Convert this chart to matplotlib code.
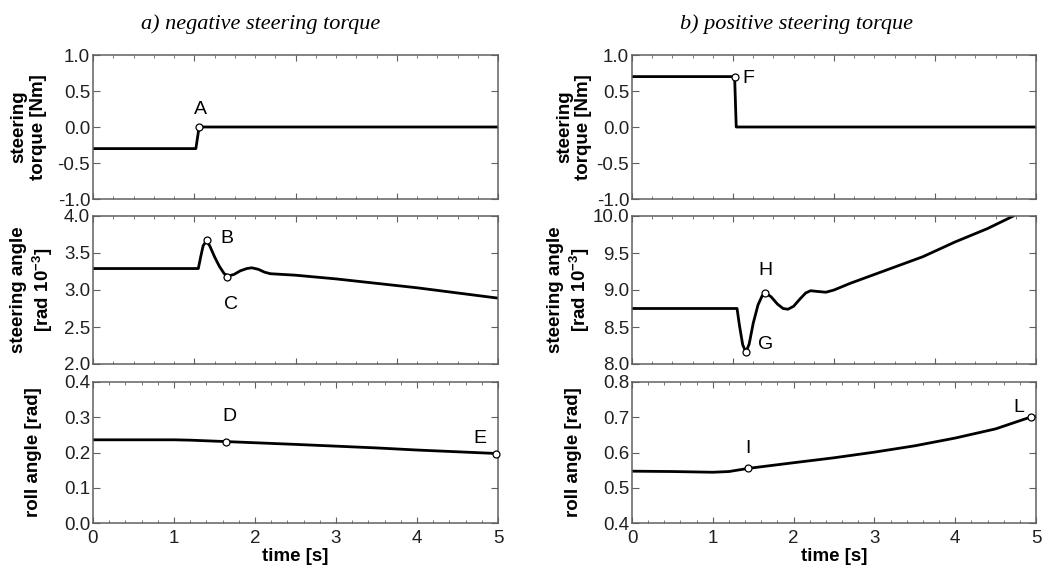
import numpy as np
import matplotlib
matplotlib.use('Agg')
import matplotlib.pyplot as plt
from matplotlib.ticker import MultipleLocator, FormatStrFormatter, NullFormatter

plt.rcParams['font.family'] = ['Liberation Sans', 'DejaVu Sans']
plt.rcParams['axes.unicode_minus'] = False
plt.rcParams['mathtext.fontset'] = 'custom'
plt.rcParams['mathtext.rm'] = 'Liberation Sans:bold'
plt.rcParams['mathtext.bf'] = 'Liberation Sans:bold'

# ---- data ----
# a) negative steering torque
torque_neg_t = [0, 1.27, 1.31, 5.0]
torque_neg_y = [-0.3, -0.3, 0.0, 0.0]
angle_neg_t = [0, 1.30, 1.33, 1.36, 1.40, 1.44, 1.50, 1.56, 1.62, 1.67, 1.74,
               1.82, 1.90, 1.96, 2.04, 2.12, 2.19, 2.5, 3.0, 3.5, 4.0, 4.5, 5.0]
angle_neg_y = [3.29, 3.29, 3.45, 3.60, 3.66, 3.60, 3.45, 3.32, 3.22, 3.19, 3.21,
               3.26, 3.29, 3.30, 3.28, 3.24, 3.22, 3.20, 3.15, 3.09, 3.03, 2.96, 2.89]
roll_neg_t = [0, 0.5, 1.0, 1.2, 1.64, 2.5, 3.0, 3.5, 4.0, 4.5, 5.0]
roll_neg_y = [0.236, 0.236, 0.236, 0.235, 0.231, 0.223, 0.218, 0.213, 0.207, 0.202, 0.197]

# b) positive steering torque
torque_pos_t = [0, 1.27, 1.29, 5.0]
torque_pos_y = [0.7, 0.7, 0.0, 0.0]
angle_pos_t = [0, 1.30, 1.33, 1.37, 1.41, 1.45, 1.50, 1.56, 1.61, 1.65, 1.72,
               1.80, 1.87, 1.93, 2.00, 2.08, 2.15, 2.21, 2.30, 2.40, 2.50, 2.70,
               2.90, 3.00, 3.30, 3.60, 4.00, 4.40, 4.72]
angle_pos_y = [8.75, 8.75, 8.52, 8.26, 8.16, 8.27, 8.55, 8.80, 8.92, 8.96, 8.91,
               8.81, 8.75, 8.74, 8.78, 8.88, 8.96, 8.99, 8.98, 8.97, 9.00, 9.09,
               9.17, 9.21, 9.33, 9.45, 9.65, 9.83, 10.0]
roll_pos_t = [0, 0.5, 1.0, 1.2, 1.44, 2.0, 2.5, 3.0, 3.5, 4.0, 4.5, 4.94, 5.0]
roll_pos_y = [0.547, 0.546, 0.544, 0.546, 0.555, 0.571, 0.585, 0.601, 0.619,
              0.641, 0.667, 0.701, 0.703]

# marked points: (name, x, y, label x, label y)
pts_neg = [
    [('A', 1.31, 0.0, 1.33, 0.25)],
    [('B', 1.41, 3.67, 1.65, 3.70), ('C', 1.66, 3.18, 1.70, 2.81)],
    [('D', 1.64, 0.231, 1.69, 0.303), ('E', 4.97, 0.197, 4.78, 0.24)],
]
pts_pos = [
    [('F', 1.27, 0.7, 1.44, 0.68)],
    [('G', 1.41, 8.16, 1.65, 8.26), ('H', 1.65, 8.96, 1.65, 9.26)],
    [('I', 1.44, 0.555, 1.43, 0.612), ('L', 4.94, 0.701, 4.79, 0.727)],
]

titles = ['a) negative steering torque', 'b) positive steering torque']
ylabels = ['steering\ntorque [Nm]', 'steering angle\n[rad 10$^{-3}$]', 'roll angle [rad]']
ylims_neg = [(-1.0, 1.0), (2.0, 4.0), (0.0, 0.4)]
ylims_pos = [(-1.0, 1.0), (8.0, 10.0), (0.4, 0.8)]
ysteps = [0.5, 0.5, 0.1]

W, H = 1044, 571
fig = plt.figure(figsize=(W / 100, H / 100), dpi=100)

cols = [(93, 498), (632, 1036)]
rows = [(55, 199), (216, 364), (382, 523)]
label_x = [[-0.114, -0.094, -0.126], [-0.099, -0.099, -0.124]]
grey = '#606060'


def make_panel(col, row, t, y, ylim, ystep, pts):
    x0, x1 = cols[col]
    y0, y1 = rows[row]
    ax = fig.add_axes([x0 / W, 1 - y1 / H, (x1 - x0) / W, (y1 - y0) / H])
    ax.plot(t, y, color='black', lw=2.0, clip_on=True)
    for name, px, py, lx, ly in pts:
        ax.plot(px, py, 'o', ms=5, mfc='white', mec='black', mew=0.9, clip_on=False, zorder=5)
        ax.text(lx, ly, name, fontsize=14, ha='center', va='center')
    ax.set_xlim(0, 5)
    ax.set_ylim(*ylim)
    ax.yaxis.set_major_locator(MultipleLocator(ystep))
    ax.yaxis.set_major_formatter(FormatStrFormatter('%.1f'))
    if row < 2:
        ax.xaxis.set_major_locator(MultipleLocator(1.25))
        ax.xaxis.set_minor_locator(MultipleLocator(0.25))
        ax.xaxis.set_major_formatter(NullFormatter())
    else:
        ax.xaxis.set_major_locator(MultipleLocator(1))
        ax.xaxis.set_minor_locator(MultipleLocator(0.2))
        ax.set_xlabel('time [s]', fontsize=13.5, fontweight='bold', labelpad=1)
    ax.tick_params(axis='both', which='both', direction='in', top=True, right=True,
                   color=grey, labelsize=13.5, labelcolor='#202020')
    ax.tick_params(axis='x', which='major', length=4.5, pad=5)
    ax.tick_params(axis='x', which='minor', length=2.5)
    ax.tick_params(axis='y', which='major', length=5, pad=2)
    for s in ax.spines.values():
        s.set_color(grey)
        s.set_linewidth(1.1)
    ax.set_ylabel(ylabels[row], fontsize=13.5, fontweight='bold', linespacing=1.15)
    ax.yaxis.set_label_coords(label_x[col][row], 0.5)
    return ax


neg = [(torque_neg_t, torque_neg_y), (angle_neg_t, angle_neg_y), (roll_neg_t, roll_neg_y)]
pos = [(torque_pos_t, torque_pos_y), (angle_pos_t, angle_pos_y), (roll_pos_t, roll_pos_y)]
for r in range(3):
    make_panel(0, r, neg[r][0], neg[r][1], ylims_neg[r], ysteps[r], pts_neg[r])
    make_panel(1, r, pos[r][0], pos[r][1], ylims_pos[r], ysteps[r], pts_pos[r])

fig.text(261 / W, 1 - 24 / H, titles[0], family='Liberation Serif', style='italic',
         fontsize=16, ha='center', va='center')
fig.text(796 / W, 1 - 24 / H, titles[1], family='Liberation Serif', style='italic',
         fontsize=16, ha='center', va='center')

fig.savefig('out.png', dpi=100)
